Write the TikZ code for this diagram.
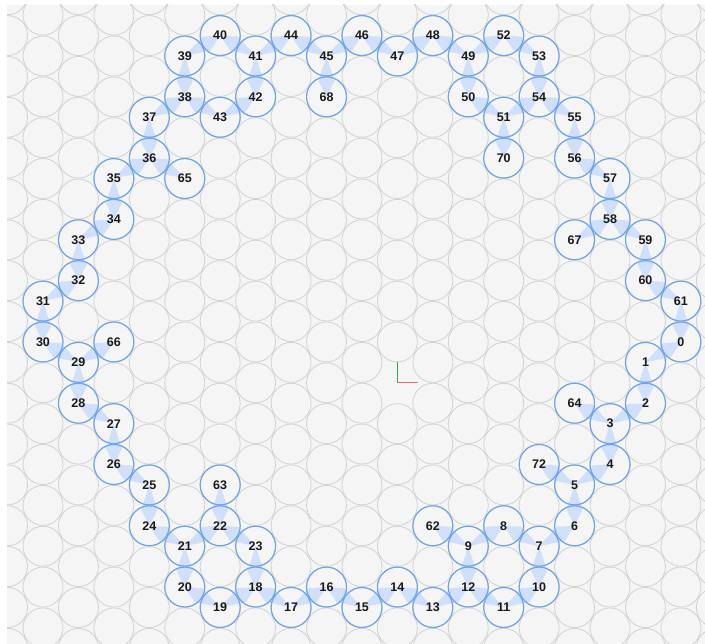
\documentclass[tikz,border=0pt]{standalone}
\usepackage{fontspec}
\newfontfamily\labfont{Liberation Sans}
\usetikzlibrary{calc}
\definecolor{bgc}{HTML}{F5F5F5}
\definecolor{gridc}{HTML}{D2D2D2}
\definecolor{bluec}{HTML}{6FA3EA}
\definecolor{wedgec}{HTML}{D0E0FA}
\definecolor{txtc}{HTML}{1A1A1A}
\definecolor{axg}{HTML}{43A047}
\definecolor{axr}{HTML}{E57373}
\pgfdeclarelayer{gridlayer}
\pgfdeclarelayer{wedgelayer}
\pgfsetlayers{gridlayer,wedgelayer,main}
\newcommand{\hn}[3]{%
  \pgfmathsetmacro\hxx{43+35.44*#2}%
  \pgfmathsetmacro\hyy{56+40.85*#3-20.425*mod(#2,2)}%
  \node[bnode] (n#1) at (\hxx,\hyy) {#1};}
\newcommand{\wdg}[2]{%
  \fill[wedgefill] (n#1.center) -- ($(n#1.center)!16pt!(n#2.center)!8pt!90:(n#2.center)$) -- (n#2.center) -- ($(n#1.center)!16pt!(n#2.center)!8pt!-90:(n#2.center)$) -- cycle;}
\begin{document}
\begin{tikzpicture}[x=1pt,y=-1pt,
  bnode/.style={circle, draw=bluec, line width=1.2pt, minimum size=40pt, inner sep=0pt,
    font=\labfont\bfseries\fontsize{12.5}{12.5}\selectfont, text=txtc},
  gcirc/.style={draw=gridc, line width=0.8pt},
  wedgefill/.style={fill=wedgec},
  axisline/.style={line width=1.4pt}]
\useasboundingbox (0,0) rectangle (705,644);
\begin{pgfonlayer}{gridlayer}
  \fill[bgc] (7,5) rectangle (705,644);
  \begin{scope}
    \clip (7,5) rectangle (705,644);
    \foreach \c in {-1,...,19}{
      \foreach \k in {-1,...,15}{
        \pgfmathsetmacro\gx{43+35.44*\c}
        \pgfmathsetmacro\gy{56+40.85*\k-20.425*mod(\c+2,2)}
        \pgfmathtruncatemacro\skipme{(\c==10)*(\k==8)}
        \ifnum\skipme=0
          \draw[gcirc] (\gx,\gy) circle[radius=20];
        \fi
      }
    }
  \end{scope}
  \coordinate (origin) at ({43+35.44*10},{56+40.85*8});
  \coordinate (axy) at ({43+35.44*10},{56+40.85*8-21});
  \coordinate (axx) at ({43+35.44*10+21},{56+40.85*8});
  \draw[axisline, draw=axr] (origin) -- (axx);
  \draw[axisline, draw=axg] (origin) -- (axy);
\end{pgfonlayer}

\hn{0}{18}{7}
\hn{1}{17}{8}
\hn{2}{17}{9}
\hn{3}{16}{9}
\hn{4}{16}{10}
\hn{5}{15}{11}
\hn{6}{15}{12}
\hn{7}{14}{12}
\hn{8}{13}{12}
\hn{9}{12}{12}
\hn{10}{14}{13}
\hn{11}{13}{14}
\hn{12}{12}{13}
\hn{13}{11}{14}
\hn{14}{10}{13}
\hn{15}{9}{14}
\hn{16}{8}{13}
\hn{17}{7}{14}
\hn{18}{6}{13}
\hn{19}{5}{14}
\hn{20}{4}{13}
\hn{21}{4}{12}
\hn{22}{5}{12}
\hn{23}{6}{12}
\hn{24}{3}{12}
\hn{25}{3}{11}
\hn{26}{2}{10}
\hn{27}{2}{9}
\hn{28}{1}{9}
\hn{29}{1}{8}
\hn{30}{0}{7}
\hn{31}{0}{6}
\hn{32}{1}{6}
\hn{33}{1}{5}
\hn{34}{2}{4}
\hn{35}{2}{3}
\hn{36}{3}{3}
\hn{37}{3}{2}
\hn{38}{4}{1}
\hn{39}{4}{0}
\hn{40}{5}{0}
\hn{41}{6}{0}
\hn{42}{6}{1}
\hn{43}{5}{2}
\hn{44}{7}{0}
\hn{45}{8}{0}
\hn{46}{9}{0}
\hn{47}{10}{0}
\hn{48}{11}{0}
\hn{49}{12}{0}
\hn{50}{12}{1}
\hn{51}{13}{2}
\hn{52}{13}{0}
\hn{53}{14}{0}
\hn{54}{14}{1}
\hn{55}{15}{2}
\hn{56}{15}{3}
\hn{57}{16}{3}
\hn{58}{16}{4}
\hn{59}{17}{5}
\hn{60}{17}{6}
\hn{61}{18}{6}
\hn{62}{11}{12}
\hn{63}{5}{11}
\hn{64}{15}{9}
\hn{65}{4}{3}
\hn{66}{2}{7}
\hn{67}{15}{5}
\hn{68}{8}{1}
\hn{70}{13}{3}
\hn{72}{14}{10}

\begin{pgfonlayer}{wedgelayer}
\wdg{0}{1}
\wdg{2}{1}
\wdg{2}{3}
\wdg{4}{3}
\wdg{4}{5}
\wdg{6}{5}
\wdg{6}{7}
\wdg{8}{7}
\wdg{8}{9}
\wdg{12}{9}
\wdg{10}{7}
\wdg{10}{11}
\wdg{12}{11}
\wdg{12}{13}
\wdg{14}{13}
\wdg{14}{15}
\wdg{16}{15}
\wdg{16}{17}
\wdg{18}{17}
\wdg{18}{19}
\wdg{20}{19}
\wdg{20}{21}
\wdg{22}{21}
\wdg{22}{23}
\wdg{18}{23}
\wdg{24}{21}
\wdg{24}{25}
\wdg{26}{25}
\wdg{26}{27}
\wdg{28}{27}
\wdg{28}{29}
\wdg{30}{29}
\wdg{30}{31}
\wdg{32}{31}
\wdg{32}{33}
\wdg{34}{33}
\wdg{34}{35}
\wdg{36}{35}
\wdg{36}{37}
\wdg{38}{37}
\wdg{38}{39}
\wdg{40}{39}
\wdg{40}{41}
\wdg{42}{41}
\wdg{42}{43}
\wdg{38}{43}
\wdg{44}{41}
\wdg{44}{45}
\wdg{46}{45}
\wdg{46}{47}
\wdg{48}{47}
\wdg{48}{49}
\wdg{50}{49}
\wdg{50}{51}
\wdg{52}{49}
\wdg{52}{53}
\wdg{54}{53}
\wdg{54}{51}
\wdg{54}{55}
\wdg{56}{55}
\wdg{56}{57}
\wdg{58}{57}
\wdg{58}{59}
\wdg{60}{59}
\wdg{60}{61}
\wdg{0}{61}
\wdg{64}{3}
\wdg{72}{5}
\wdg{62}{9}
\wdg{22}{63}
\wdg{36}{65}
\wdg{66}{29}
\wdg{58}{67}
\wdg{68}{45}
\wdg{70}{51}
\end{pgfonlayer}
\end{tikzpicture}
\end{document}
